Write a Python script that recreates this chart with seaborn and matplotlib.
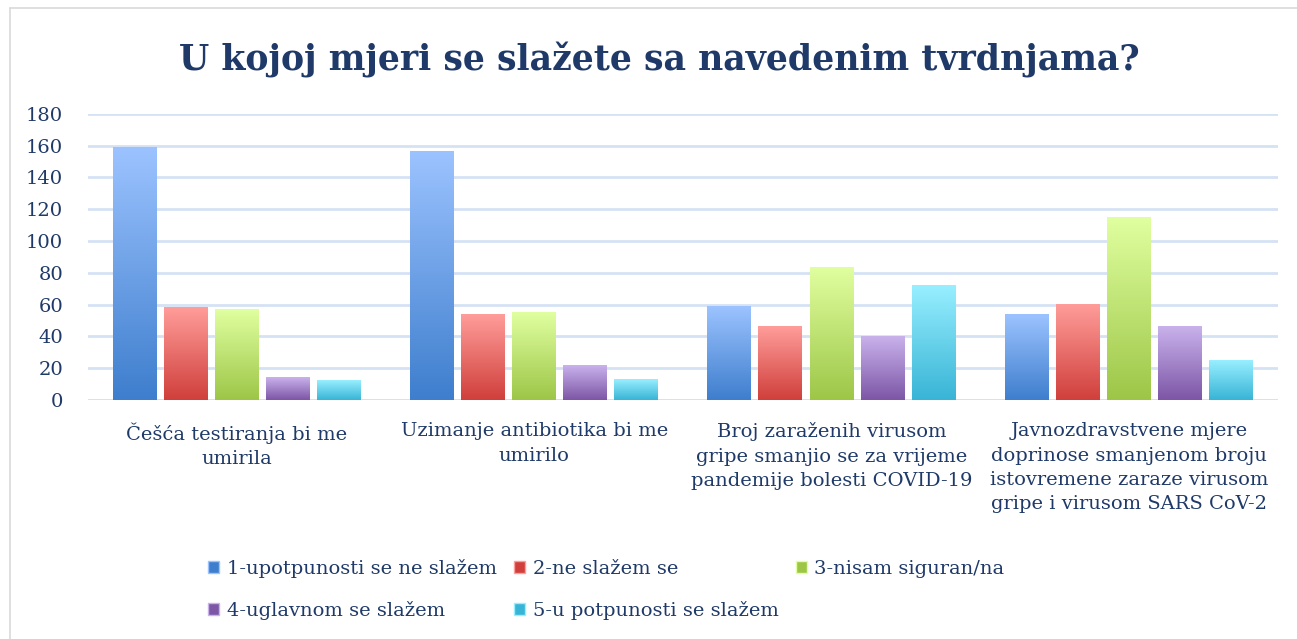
import numpy as np
import pandas as pd
import seaborn as sns
import matplotlib.pyplot as plt
from matplotlib.colors import LinearSegmentedColormap
from matplotlib.lines import Line2D
from matplotlib.patches import Patch

# data
categories = [
    "Češća testiranja bi me\numirila",
    "Uzimanje antibiotika bi me\numirilo",
    "Broj zaraženih virusom\ngripe smanjio se za vrijeme\npandemije bolesti COVID-19",
    "Javnozdravstvene mjere\ndoprinose smanjenom broju\nistovremene zaraze virusom\ngripe i virusom SARS CoV-2",
]
answers = [
    "1-upotpunosti se ne slažem",
    "2-ne slažem se",
    "3-nisam siguran/na",
    "4-uglavnom se slažem",
    "5-u potpunosti se slažem",
]
vals_1 = [159, 156, 59, 54]
vals_2 = [58, 54, 46, 60]
vals_3 = [57, 55, 83, 115]
vals_4 = [14, 22, 40, 46]
vals_5 = [12, 13, 72, 25]

# gradient colours (top, bottom) per answer
tops = ["#9cc3ff", "#ff9d9a", "#e0ffa0", "#c9b2ec", "#98efff"]
bottoms = ["#3e7ecd", "#d03f3b", "#9dc647", "#7d56a6", "#38b4d6"]

navy = "#1f3a68"

rows = []
for a, vals in zip(answers, [vals_1, vals_2, vals_3, vals_4, vals_5]):
    for c, v in zip(categories, vals):
        rows.append({"cat": c, "ans": a, "val": v})
df = pd.DataFrame(rows)

sns.set_style("white")
plt.rcParams["font.family"] = ["DejaVu Serif"]

fig = plt.figure(figsize=(12.97, 6.39), dpi=100)
ax = fig.add_axes([0.068, 0.374, 0.917, 0.448])

sns.barplot(data=df, x="cat", y="val", hue="ans", hue_order=answers,
            order=categories, palette=bottoms, width=0.86, gap=0.14,
            ax=ax, legend=False)

# paint vertical gradients over the bars
grad = np.linspace(1, 0, 256).reshape(-1, 1)
for i, a in enumerate(answers):
    cmap = LinearSegmentedColormap.from_list(a, [bottoms[i], tops[i]])
    for p in ax.containers[i]:
        x0, y0 = p.get_x(), p.get_y()
        w, h = p.get_width(), p.get_height()
        ax.imshow(grad, cmap=cmap, extent=[x0, x0 + w, y0, y0 + h],
                  aspect="auto", zorder=3, vmin=0, vmax=1)
        p.set_alpha(0)

ax.set_xlim(-0.5, 3.5)
ax.set_ylim(0, 180)
ax.set_yticks(range(0, 181, 20))
ax.yaxis.grid(True, color="#d5e2f4", linewidth=2)
ax.set_axisbelow(True)
for s in ax.spines.values():
    s.set_visible(False)
ax.axhline(0, color="#d5e2f4", linewidth=2, zorder=1)

ax.set_xlabel("")
ax.set_ylabel("")
ax.tick_params(axis="both", length=0, labelsize=14, colors=navy)
ax.tick_params(axis="x", pad=16)
ax.tick_params(axis="y", pad=18)
for t in ax.get_xticklabels():
    t.set_linespacing(1.45)

fig.suptitle("U kojoj mjeri se slažete sa navedenim tvrdnjama?",
             x=0.508, y=0.935, fontsize=25, fontweight="bold", color=navy)

# legend filled row by row
handles = [Patch(facecolor=bottoms[i], edgecolor=tops[i]) for i in range(5)]
order = [0, 3, 1, 4, 2]
leg = fig.legend([handles[i] for i in order], [answers[i] for i in order],
                 ncol=3, loc="upper left", bbox_to_anchor=(0.147, 0.153),
                 frameon=False, fontsize=14, handlelength=0.55,
                 handleheight=0.55, handletextpad=0.4, columnspacing=0.9,
                 labelspacing=1.2)
for t in leg.get_texts():
    t.set_color(navy)

# chart area frame
fig.add_artist(Line2D([0.008, 0.008], [0, 0.988], color="#d9d9d9", lw=1.2))
fig.add_artist(Line2D([0.008, 1], [0.988, 0.988], color="#d9d9d9", lw=1.2))

fig.savefig("out.png", dpi=100)
